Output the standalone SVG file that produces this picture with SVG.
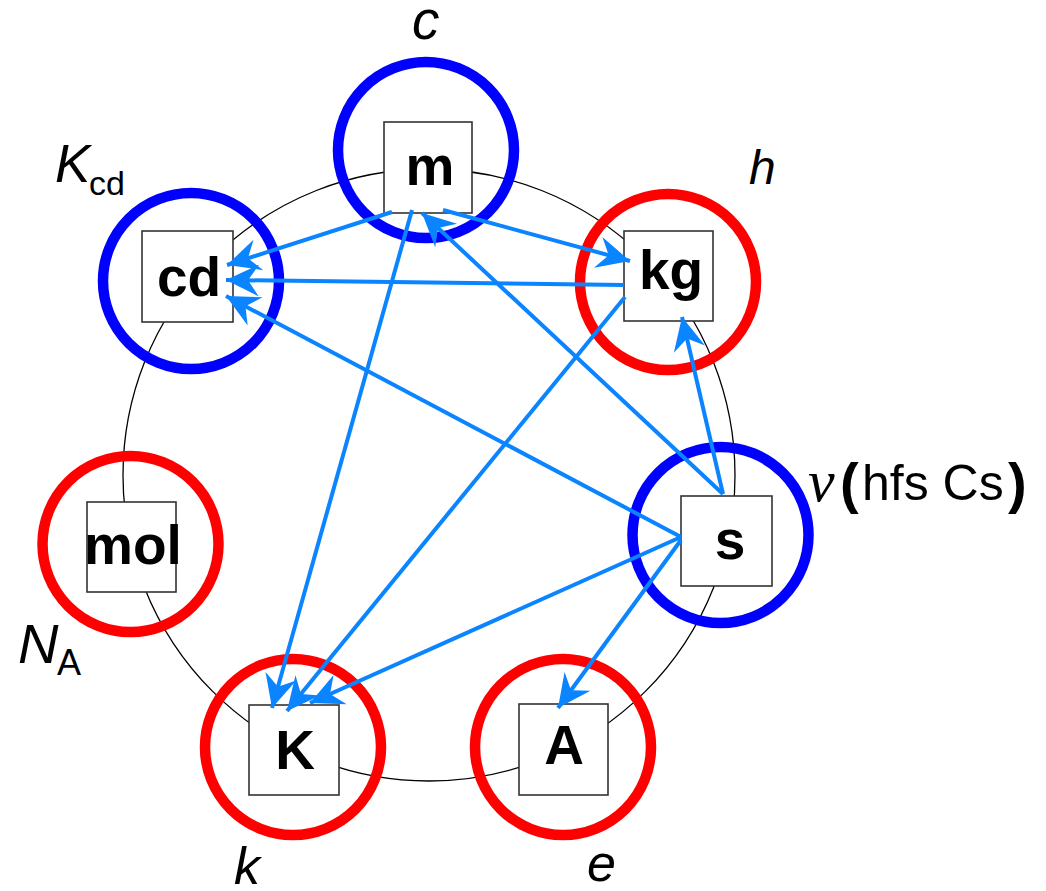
<svg xmlns="http://www.w3.org/2000/svg" width="1046" height="891" viewBox="0 0 1046 891">
<style>
.bg{fill:#ffffff}
.orbit{fill:none;stroke:#000;stroke-width:1.3}
.ring{fill:none;stroke-width:10.5}
.blue{stroke:#0000ff}
.red{stroke:#ff0000}
.box{fill:#fff;stroke:#333;stroke-width:1.6}
.unit{font-family:"Liberation Sans",Arial,sans-serif;font-weight:bold;font-size:55px;fill:#000;text-anchor:middle}
.lab{font-family:"Liberation Sans",Arial,sans-serif;font-style:italic;fill:#000}
.sub{font-family:"Liberation Sans",Arial,sans-serif;fill:#000}
.arr{stroke:#0a84ff;stroke-width:4;fill:none;marker-end:url(#ah)}
</style>
<defs>
<marker id="ah" markerUnits="userSpaceOnUse" viewBox="-35 -18 37 36" refX="0" refY="0" markerWidth="37" markerHeight="36" orient="auto" overflow="visible">
<path d="M0,0 L-33,-16 L-22,0 L-33,16 Z" fill="#0a84ff"/>
</marker>
</defs>
<rect class="bg" x="0" y="0" width="1046" height="891"/>
<circle class="orbit" cx="429" cy="475" r="306"/>
<g id="node-m">
<circle class="ring blue" cx="426" cy="150" r="88"/>
<rect class="box" x="384" y="122" width="88" height="91"/>
<text class="unit" x="430" y="185">m</text>
</g>
<g id="node-cd">
<circle class="ring blue" cx="191" cy="281" r="88"/>
<rect class="box" x="142" y="231" width="91" height="91"/>
<text class="unit" x="189" y="296">cd</text>
</g>
<g id="node-kg">
<circle class="ring red" cx="668" cy="282" r="88"/>
<rect class="box" x="624" y="231" width="89" height="90"/>
<text class="unit" x="671" y="289">kg</text>
</g>
<g id="node-s">
<circle class="ring blue" cx="720.5" cy="535" r="88"/>
<rect class="box" x="681" y="496" width="91" height="90"/>
<text class="unit" x="730" y="559">s</text>
</g>
<g id="node-mol">
<circle class="ring red" cx="130.5" cy="544" r="88"/>
<rect class="box" x="87" y="502" width="89" height="90"/>
<text class="unit" x="133" y="564">mol</text>
</g>
<g id="node-K">
<circle class="ring red" cx="293" cy="747" r="88"/>
<rect class="box" x="249" y="705" width="90" height="90"/>
<text class="unit" x="295" y="769">K</text>
</g>
<g id="node-A">
<circle class="ring red" cx="563" cy="747" r="88"/>
<rect class="box" x="519" y="704" width="89" height="91"/>
<text class="unit" x="564" y="764">A</text>
</g>
<g id="labels">
<text class="lab" x="412" y="39" font-size="55">c</text>
<text class="lab" x="55" y="182" font-size="53">K</text>
<text class="sub" x="89" y="195" font-size="34">cd</text>
<text class="lab" x="749" y="184" font-size="48">h</text>
<text x="808" y="501" font-family="'Liberation Serif','Times New Roman',serif" font-style="italic" font-size="60">ν</text>
<text x="840" y="502" font-family="'Liberation Sans',Arial,sans-serif" font-weight="bold" font-size="56">(</text>
<text x="862" y="500" font-family="'Liberation Sans',Arial,sans-serif" font-size="50">hfs Cs</text>
<text x="1008" y="502" font-family="'Liberation Sans',Arial,sans-serif" font-weight="bold" font-size="56">)</text>
<text class="lab" x="18" y="663" font-size="56">N</text>
<text class="sub" x="57" y="675" font-size="36">A</text>
<text class="lab" x="234" y="884" font-size="52">k</text>
<text class="lab" x="587" y="881" font-size="52">e</text>
</g>
<g id="connectors">
<line class="arr" x1="392" y1="212" x2="227" y2="265"/>
<line class="arr" x1="443" y1="210" x2="630" y2="261"/>
<line class="arr" x1="412" y1="210" x2="272" y2="708"/>
<line class="arr" x1="624" y1="285" x2="226" y2="280"/>
<line class="arr" x1="625" y1="297" x2="287" y2="711"/>
<line class="arr" x1="723" y1="494" x2="422" y2="213"/>
<line class="arr" x1="723" y1="494" x2="682" y2="317"/>
<line class="arr" x1="681" y1="537" x2="226" y2="296"/>
<line class="arr" x1="681" y1="537" x2="310" y2="703"/>
<line class="arr" x1="681" y1="540" x2="558" y2="708"/>
</g>
</svg>
